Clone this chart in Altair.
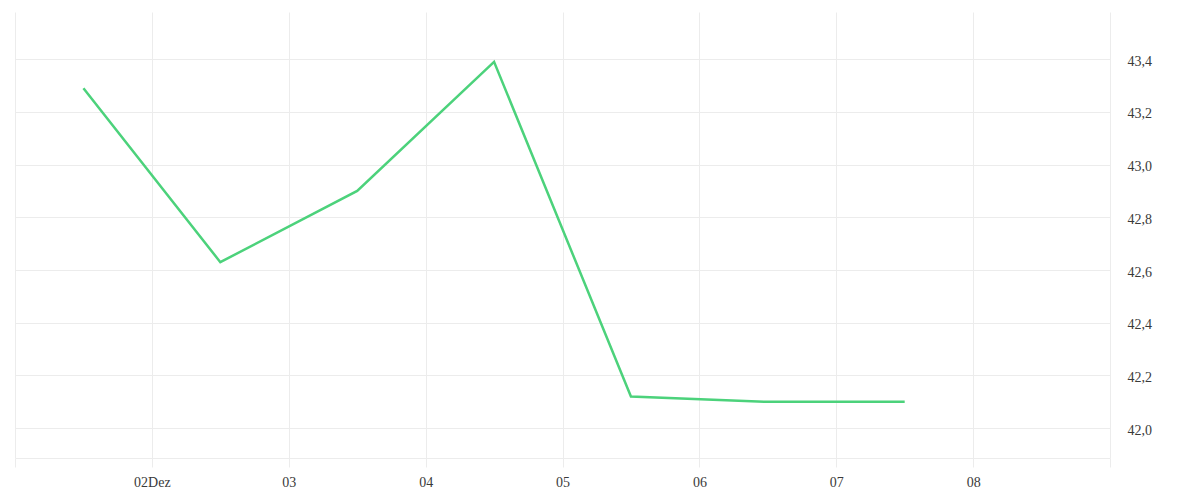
import altair as alt
import pandas as pd

dates = ["2024-12-01T12:00:00Z", "2024-12-02T12:00:00Z", "2024-12-03T12:00:00Z",
         "2024-12-04T12:00:00Z", "2024-12-05T12:00:00Z", "2024-12-06T12:00:00Z",
         "2024-12-07T12:00:00Z"]
values = [43.29, 42.63, 42.90, 43.39, 42.12, 42.10, 42.10]
y_ticks = [42.0, 42.2, 42.4, 42.6, 42.8, 43.0, 43.2, 43.4]
x_tick_days = [1, 2, 3, 4, 5, 6, 7, 8, 9]

df = pd.DataFrame({"date": dates, "value": values})

FONT = "Liberation Serif"
GRID = "#ececec"

x_values = [alt.DateTime(year=2024, month=12, date=d, utc=True) for d in x_tick_days]

chart = alt.Chart(df).mark_line(color="#4cd27b", strokeWidth=2.5).encode(
    x=alt.X("date:T",
            scale=alt.Scale(type="utc",
                            domain=[alt.DateTime(year=2024, month=12, date=1, utc=True),
                                    alt.DateTime(year=2024, month=12, date=9, utc=True)]),
            axis=alt.Axis(values=x_values,
                          labelExpr="utcdate(datum.value) == 2 ? '02Dez' : ((utcdate(datum.value) == 1 || utcdate(datum.value) == 9) ? '' : utcFormat(datum.value, '%d'))",
                          title=None, grid=True, gridColor=GRID, tickColor=GRID,
                          domainColor=GRID, tickSize=9, labelPadding=8,
                          labelFont=FONT, labelFontSize=14, labelColor="#3a3a3a",
                          labelFlush=False, labelOverlap=False)),
    y=alt.Y("value:Q",
            scale=alt.Scale(domain=[41.887, 43.579], nice=False, zero=False),
            axis=alt.Axis(orient="right", values=y_ticks, title=None,
                          labelExpr="replace(format(datum.value, '.1f'), '.', ',')",
                          grid=True, gridColor=GRID, ticks=False, tickSize=0,
                          domain=False, labelPadding=17, labelOffset=2,
                          labelFont=FONT, labelFontSize=14, labelColor="#3a3a3a")),
).properties(
    width=1095, height=446,
    autosize=alt.AutoSizeParams(type="none"),
    padding={"left": 7, "top": 4, "right": 82, "bottom": 34},
).configure_view(stroke=None)

chart.save("out.html", embed_options={"renderer": "svg", "actions": False})
